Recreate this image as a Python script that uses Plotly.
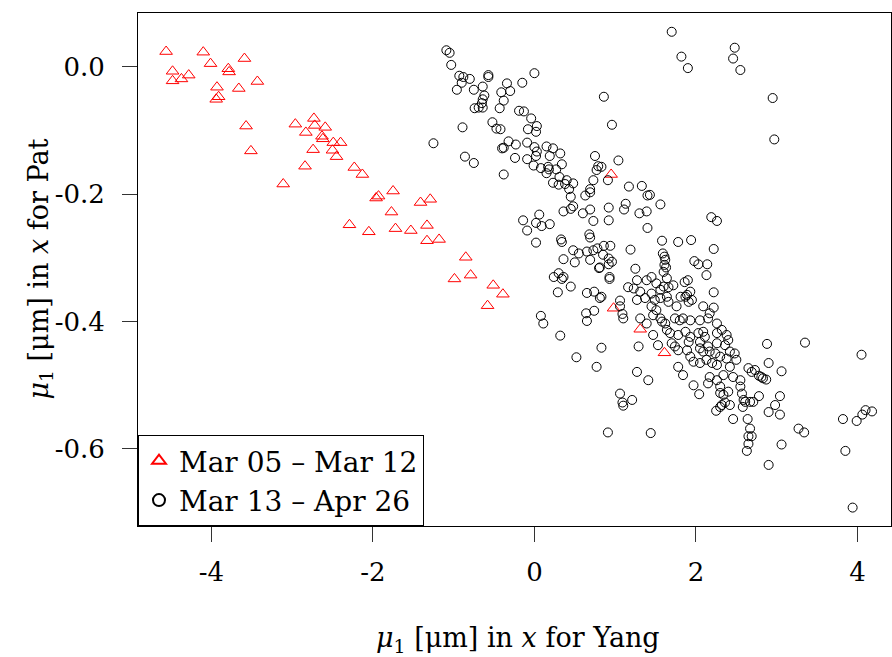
import plotly.graph_objects as go

# ---- data ----
series_names = ["Mar 05 \u2013 Mar 12", "Mar 13 \u2013 Apr 26"]

red_x = [-4.56, -4.10, -4.01, -4.48, -4.28, -4.37, -4.48, -3.79, -3.78, -3.59,
         -3.43, -3.93, -3.91, -3.94, -3.66, -3.57, -3.51, -2.96, -2.73, -2.72,
         -2.59, -2.83, -2.63, -2.62, -2.49, -2.40, -2.74, -2.50, -2.45, -2.84,
         -3.11, -2.23, -2.13, -2.29, -2.05, -1.75, -1.93, -1.96, -1.41, -1.29,
         -1.77, -1.72, -1.53, -1.33, -1.33, -1.18, -0.85, -0.99, -0.79, -0.51,
         -0.39, -0.58, 0.95, 0.98, 1.31, 1.61]
red_y = [0.024, 0.023, 0.005, -0.007, -0.013, -0.019, -0.022, -0.003, -0.008, 0.013,
         -0.023, -0.032, -0.047, -0.051, -0.034, -0.093, -0.132, -0.090, -0.081, -0.092,
         -0.095, -0.103, -0.109, -0.113, -0.119, -0.119, -0.130, -0.131, -0.141, -0.156,
         -0.184, -0.158, -0.169, -0.248, -0.259, -0.195, -0.203, -0.206, -0.213, -0.208,
         -0.228, -0.254, -0.257, -0.249, -0.273, -0.271, -0.299, -0.333, -0.327, -0.343,
         -0.357, -0.375, -0.169, -0.379, -0.412, -0.449]

black_x = [
    -1.09, -1.05, -1.03, -0.93, -0.88, -0.90, -0.80, -0.96, -0.75, -0.64,
    -0.57, -0.57, -0.62, -0.64, -0.65, -0.74, -0.69, -0.64, -0.34, -0.41,
    -0.30, -0.38, -0.43, -0.15, 0.00, -0.19, -0.13, -0.04, 0.03, 0.02,
    -0.08, -0.89, -0.52, -0.47, -0.42, -1.25, -0.32, -0.40, -0.38, -0.23,
    -0.09, 0.00, 0.03, 0.02, 0.15, 0.23, 0.32, 0.19, -0.86, -0.75,
    -0.24, -0.09, -0.01, 0.08, 0.17, 0.18, 0.15, 0.27, 0.34, -0.38,
    0.31, 0.40, 0.23, 0.30, 0.38, 0.48, 0.75, 0.86, 0.79, 0.83,
    0.77, 0.73, 0.69, 1.70, 1.82, 1.90, 2.48, 2.46, 2.55, 2.95,
    2.97, 0.96, 1.04, 0.91, 0.43, 0.45, 0.63, 0.69, 1.17, 1.33,
    1.40, 1.43, 1.56, 0.48, 0.45, 0.36, 0.60, 0.69, 0.92, 0.92,
    1.13, 1.11, 1.30, 1.39, 0.73, 0.06, 0.02, 0.09, 0.19, -0.14,
    -0.09, 0.02, 1.40, 0.68, 0.69, 0.33, 0.34, 1.58, 0.48, 0.55,
    0.65, 0.73, 0.78, 0.86, 0.94, 1.19, 0.85, 0.36, 0.50, 0.69,
    0.92, 0.96, 0.92, 0.81, 0.80, 0.93, 0.93, 1.25, 0.30, 0.24,
    0.34, 0.36, 0.45, 0.29, 0.65, 0.74, 0.81, 0.83, 1.06, 1.27,
    1.39, 1.45, 1.51, 1.56, 1.23, 1.31, 1.27, 1.37, 1.45, 1.49,
    1.56, 1.64, 1.64, 1.60, 1.16, 2.19, 2.26, 1.78, 1.94, 2.22,
    1.59, 1.61, 1.62, 1.61, 1.63, 1.60, 1.98, 2.03, 2.14, 2.13,
    1.90, 1.86, 1.72, 1.66, 1.93, 2.22, 1.81, 1.87, 1.89, 1.95,
    1.66, 1.76, 2.09, 2.22, 0.08, 0.11, 0.32, 0.64, 0.74, 0.65,
    0.83, 0.52, 0.77, 0.91, 1.06, 1.09, 1.10, 1.45, 1.51, 1.47,
    1.56, 1.58, 1.31, 1.39, 1.91, 1.62, 1.64, 1.68, 1.74, 1.80,
    1.84, 1.93, 2.05, 2.17, 2.15, 2.26, 1.47, 1.53, 1.70, 1.74,
    1.78, 1.78, 1.87, 1.93, 1.91, 1.89, 2.03, 2.09, 2.11, 2.05,
    2.05, 2.09, 2.15, 2.17, 2.26, 2.32, 2.38, 2.40, 2.36, 2.26,
    2.24, 2.30, 2.38, 2.42, 2.48, 2.50, 1.29, 1.93, 1.97, 2.05,
    2.13, 2.20, 2.26, 2.17, 2.26, 2.34, 2.42, 2.46, 2.55, 1.78,
    1.84, 1.27, 1.41, 1.97, 2.15, 2.30, 2.40, 2.55, 1.06, 1.09,
    1.10, 1.21, 1.44, 2.04, 2.30, 2.34, 2.42, 2.32, 2.36, 2.25,
    2.30, 2.46, 2.64, 2.67, 2.65, 2.69, 2.65, 2.63, 2.88, 3.35,
    4.05, 2.90, 3.06, 2.65, 2.69, 2.73, 2.78, 2.81, 2.87, 2.83,
    2.57, 2.59, 2.61, 2.58, 2.71, 2.78, 2.67, 3.04, 2.98, 2.90,
    3.04, 3.27, 3.34, 3.06, 2.90, 3.82, 3.99, 4.06, 4.10, 4.18,
    3.85, 3.94]
black_y = [
    0.026, 0.022, 0.003, -0.014, -0.016, -0.025, -0.019, -0.036, -0.036, -0.031,
    -0.013, -0.016, -0.045, -0.051, -0.057, -0.065, -0.064, -0.064, -0.026, -0.040,
    -0.038, -0.053, -0.065, -0.025, -0.010, -0.069, -0.070, -0.081, -0.093, -0.102,
    -0.098, -0.095, -0.087, -0.097, -0.098, -0.120, -0.117, -0.128, -0.127, -0.122,
    -0.119, -0.126, -0.133, -0.140, -0.125, -0.128, -0.136, -0.140, -0.141, -0.151,
    -0.143, -0.145, -0.155, -0.159, -0.157, -0.161, -0.167, -0.161, -0.153, -0.169,
    -0.173, -0.178, -0.182, -0.185, -0.184, -0.183, -0.140, -0.047, -0.156, -0.157,
    -0.162, -0.178, -0.192, 0.055, 0.016, -0.002, 0.030, 0.013, -0.005, -0.049,
    -0.114, -0.091, -0.147, -0.178, -0.192, -0.204, -0.202, -0.197, -0.188, -0.187,
    -0.202, -0.201, -0.216, -0.219, -0.223, -0.227, -0.230, -0.224, -0.221, -0.241,
    -0.215, -0.224, -0.230, -0.227, -0.242, -0.232, -0.245, -0.250, -0.247, -0.241,
    -0.257, -0.276, -0.253, -0.263, -0.268, -0.271, -0.275, -0.273, -0.288, -0.293,
    -0.290, -0.288, -0.285, -0.281, -0.281, -0.287, -0.295, -0.302, -0.307, -0.303,
    -0.301, -0.306, -0.310, -0.315, -0.316, -0.330, -0.333, -0.317, -0.324, -0.330,
    -0.333, -0.330, -0.345, -0.354, -0.355, -0.353, -0.363, -0.361, -0.367, -0.335,
    -0.335, -0.330, -0.340, -0.350, -0.348, -0.353, -0.366, -0.363, -0.356, -0.366,
    -0.363, -0.361, -0.332, -0.345, -0.346, -0.236, -0.242, -0.275, -0.272, -0.286,
    -0.293, -0.298, -0.303, -0.311, -0.315, -0.322, -0.305, -0.310, -0.310, -0.327,
    -0.335, -0.338, -0.343, -0.346, -0.353, -0.354, -0.361, -0.361, -0.358, -0.366,
    -0.369, -0.376, -0.376, -0.378, -0.391, -0.403, -0.422, -0.387, -0.383, -0.399,
    -0.441, -0.456, -0.471, -0.574, -0.376, -0.388, -0.395, -0.376, -0.382, -0.390,
    -0.395, -0.400, -0.395, -0.403, -0.369, -0.403, -0.413, -0.418, -0.395, -0.398,
    -0.395, -0.398, -0.398, -0.387, -0.395, -0.403, -0.421, -0.437, -0.434, -0.439,
    -0.445, -0.421, -0.416, -0.424, -0.432, -0.445, -0.418, -0.416, -0.424, -0.432,
    -0.442, -0.447, -0.439, -0.447, -0.418, -0.413, -0.421, -0.429, -0.437, -0.434,
    -0.450, -0.455, -0.458, -0.447, -0.450, -0.460, -0.439, -0.455, -0.463, -0.465,
    -0.460, -0.465, -0.468, -0.487, -0.492, -0.484, -0.471, -0.487, -0.492, -0.471,
    -0.484, -0.479, -0.492, -0.500, -0.497, -0.502, -0.510, -0.502, -0.513, -0.527,
    -0.532, -0.523, -0.575, -0.514, -0.512, -0.515, -0.531, -0.531, -0.527, -0.540,
    -0.534, -0.553, -0.553, -0.568, -0.580, -0.580, -0.592, -0.603, -0.435, -0.433,
    -0.452, -0.465, -0.478, -0.473, -0.479, -0.476, -0.485, -0.487, -0.491, -0.489,
    -0.513, -0.523, -0.526, -0.534, -0.526, -0.517, -0.526, -0.517, -0.531, -0.542,
    -0.546, -0.568, -0.574, -0.593, -0.625, -0.553, -0.556, -0.546, -0.539, -0.541,
    -0.603, -0.692]

x_tickvals = [-4, -2, 0, 2, 4]
x_ticktext = ["-4", "-2", "0", "2", "4"]
y_tickvals = [-0.6, -0.4, -0.2, 0.0]
y_ticktext = ["-0.6", "-0.4", "-0.2", "0.0"]

x_title = "<i>\u03bc</i><sub>1</sub> [\u03bcm] in <i>x</i> for Yang"
y_title = "<i>\u03bc</i><sub>1</sub> [\u03bcm] in <i>x</i> for Pat"

assert len(red_x) == len(red_y)
assert len(black_x) == len(black_y)

FONT = "DejaVu Serif"
FS = 26

fig = go.Figure()
fig.add_trace(go.Scatter(
    x=red_x, y=red_y, mode="markers", name=series_names[0],
    marker=dict(symbol="triangle-up-open", size=11, color="#ff0000",
                line=dict(width=1, color="#ff0000")),
))
fig.add_trace(go.Scatter(
    x=black_x, y=black_y, mode="markers", name=series_names[1],
    marker=dict(symbol="circle-open", size=9, color="#000000",
                line=dict(width=1, color="#000000")),
))

axis_common = dict(
    showgrid=False, zeroline=False,
    showline=True, mirror=True, linecolor="#000000", linewidth=1,
    ticks="outside", ticklen=15, tickwidth=1, tickcolor="#333333",
    tickfont=dict(family=FONT, size=FS, color="#000000"),
)

fig.update_layout(
    width=892, height=657,
    margin=dict(l=138, r=1, t=13, b=131),
    paper_bgcolor="white", plot_bgcolor="white",
    xaxis=dict(range=[-4.908, 4.415], tickmode="array", tickvals=x_tickvals,
               ticktext=x_ticktext, ticklabelstandoff=8, **axis_common),
    yaxis=dict(range=[-0.7209, 0.0845], tickmode="array", tickvals=y_tickvals,
               ticktext=y_ticktext, ticklabelstandoff=12, **axis_common),
    legend=dict(x=0, y=0, xanchor="left", yanchor="bottom",
                bgcolor="white", bordercolor="#000000", borderwidth=1,
                font=dict(family=FONT, size=28, color="#000000"),
                itemsizing="constant"),
    showlegend=True,
    annotations=[
        dict(text=x_title, xref="paper", yref="paper", x=0.505, y=-0.222,
             xanchor="center", yanchor="middle", showarrow=False,
             font=dict(family=FONT, size=27, color="#000000")),
        dict(text=y_title, xref="paper", yref="paper", x=-0.130, y=0.5,
             xanchor="center", yanchor="middle", textangle=-90, showarrow=False,
             font=dict(family=FONT, size=27, color="#000000")),
    ],
)

fig.write_html("out.html")
